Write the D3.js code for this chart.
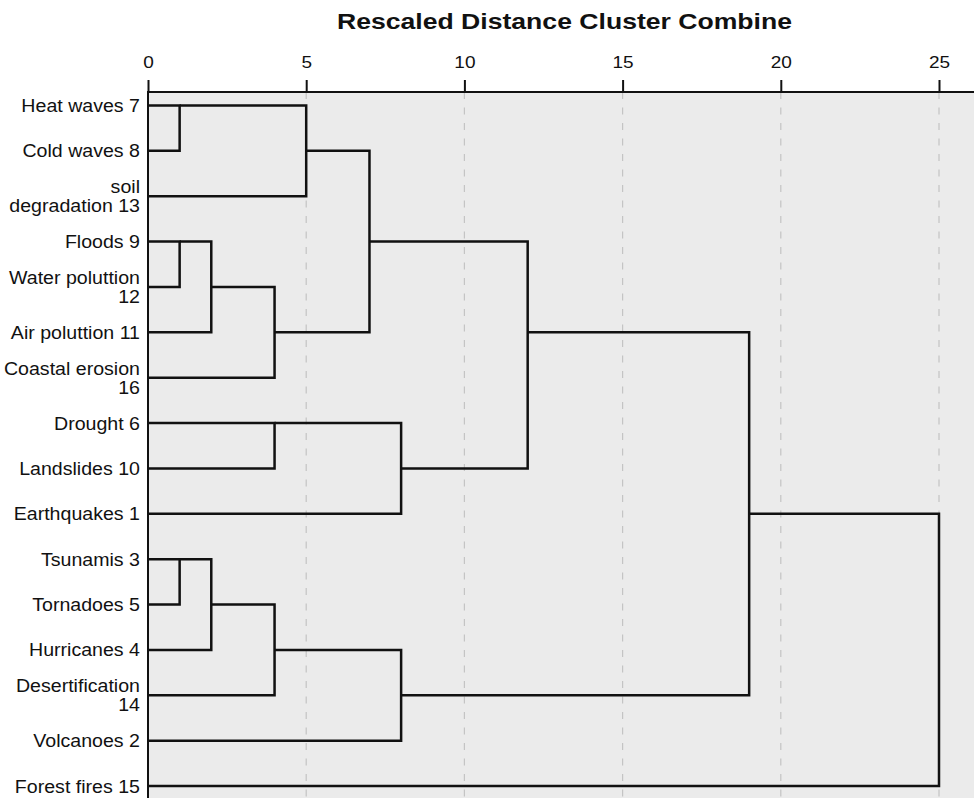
<!DOCTYPE html>
<html>
<head>
<meta charset="utf-8">
<script src="https://cdn.jsdelivr.net/npm/d3@7"></script>
<style>
  body { margin: 0; background: #fff; }
  svg { display: block; font-family: "Liberation Sans", Arial, sans-serif; }
</style>
</head>
<body>
<svg id="chart" width="974" height="798"></svg>
<script>
// case labels, top to bottom (\n = line break in the original)
const labels = [
    "Heat waves 7", "Cold waves 8", "soil\ndegradation 13", "Floods 9",
    "Water poluttion\n12", "Air poluttion 11", "Coastal erosion\n16", "Drought 6",
    "Landslides 10", "Earthquakes 1", "Tsunamis 3", "Tornadoes 5",
    "Hurricanes 4", "Desertification\n14", "Volcanoes 2", "Forest fires 15"
]

// merges: [clusterA, clusterB, rescaled distance]; leaves are 0..15, new clusters get 16, 17, ...
const merges = [
    [0, 1, 1],     // 16
    [3, 4, 1],     // 17
    [10, 11, 1],   // 18
    [17, 5, 2],    // 19
    [18, 12, 2],   // 20
    [19, 6, 4],    // 21
    [7, 8, 4],     // 22
    [20, 13, 4],   // 23
    [16, 2, 5],    // 24
    [24, 21, 7],   // 25
    [22, 9, 8],    // 26
    [23, 14, 8],   // 27
    [25, 26, 12],  // 28
    [28, 27, 19],  // 29
    [29, 15, 25]   // 30
]

const tickValues = [0, 5, 10, 15, 20, 25]
const title = "Rescaled Distance Cluster Combine"

function drawDendrogram() {
    const svg = d3.select("#chart")
    const W = 974, H = 798
    const stretch = 1.12 // text in the original is a bit wider than Arial

    const x = d3.scaleLinear().domain([0, 25]).range([148, 939])
    const y = d3.scaleLinear().domain([0, labels.length - 1]).range([105.5, 786])
    const axisY = 92

    // plot background
    svg.append("rect")
        .attr("x", x(0)).attr("y", axisY)
        .attr("width", W - x(0)).attr("height", H - axisY)
        .attr("fill", "#ebebeb")

    // dashed grid
    svg.selectAll(".grid")
        .data(tickValues.filter(d => d > 0))
        .join("line")
            .attr("class", "grid")
            .attr("x1", d => x(d)).attr("x2", d => x(d))
            .attr("y1", axisY).attr("y2", H)
            .attr("stroke", "#c4c4c4")
            .attr("stroke-width", 1.2)
            .attr("stroke-dasharray", "7,8.5")

    // top axis
    const axis = svg.append("g")
        .attr("transform", `translate(0,${axisY})`)
        .call(d3.axisTop(x).tickValues(tickValues).tickSize(12).tickPadding(0))
    axis.select(".domain").remove()
    axis.selectAll(".tick line").attr("stroke", "#111").attr("stroke-width", 2)
    axis.selectAll(".tick text")
        .attr("font-size", 17)
        .attr("fill", "#111")
        .attr("y", -24)
        .attr("transform", `scale(${stretch},1)`)
        .attr("dy", 0)
    svg.append("line")
        .attr("x1", x(0) - 1).attr("x2", W)
        .attr("y1", axisY).attr("y2", axisY)
        .attr("stroke", "#111").attr("stroke-width", 2)
    svg.append("line")
        .attr("x1", x(0)).attr("x2", x(0))
        .attr("y1", axisY).attr("y2", H)
        .attr("stroke", "#111").attr("stroke-width", 2)

    // title
    svg.append("text")
        .attr("x", 337).attr("y", 29)
        .attr("font-size", 21.5)
        .attr("font-weight", "bold")
        .attr("fill", "#111")
        .attr("textLength", 455)
        .attr("lengthAdjust", "spacingAndGlyphs")
        .text(title)

    // case labels
    const lab = svg.selectAll(".case")
        .data(labels)
        .join("text")
            .attr("class", "case")
            .attr("transform", (d, i) => `translate(140,${y(i)}) scale(${stretch},1)`)
            .attr("text-anchor", "end")
            .attr("font-size", 17.5)
            .attr("fill", "#111")
    lab.each(function(d) {
        const lines = d.split("\n")
        const t = d3.select(this)
        if (lines.length === 1) {
            t.append("tspan").attr("x", 0).attr("y", 6.5).text(lines[0])
        } else {
            t.append("tspan").attr("x", 0).attr("y", -3).text(lines[0])
            t.append("tspan").attr("x", 0).attr("y", 16).text(lines[1])
        }
    })

    // dendrogram: SPSS puts each cluster on the (floored) middle row of its two parts
    const pos = labels.map((d, i) => i)
    const height = labels.map(() => 0)
    const links = []
    merges.forEach(([a, b, h]) => {
        links.push({ ya: pos[a], xa: height[a], yb: pos[b], xb: height[b], h: h })
        pos.push(Math.floor((pos[a] + pos[b]) / 2))
        height.push(h)
    })

    svg.selectAll(".link")
        .data(links)
        .join("path")
            .attr("class", "link")
            .attr("fill", "none")
            .attr("stroke", "#111")
            .attr("stroke-width", 2.5)
            .attr("stroke-linejoin", "miter")
            .attr("d", d => {
                const p = d3.path()
                p.moveTo(x(d.xa), y(d.ya))
                p.lineTo(x(d.h), y(d.ya))
                p.lineTo(x(d.h), y(d.yb))
                p.lineTo(x(d.xb), y(d.yb))
                return p.toString()
            })
}

drawDendrogram()
</script>
</body>
</html>
